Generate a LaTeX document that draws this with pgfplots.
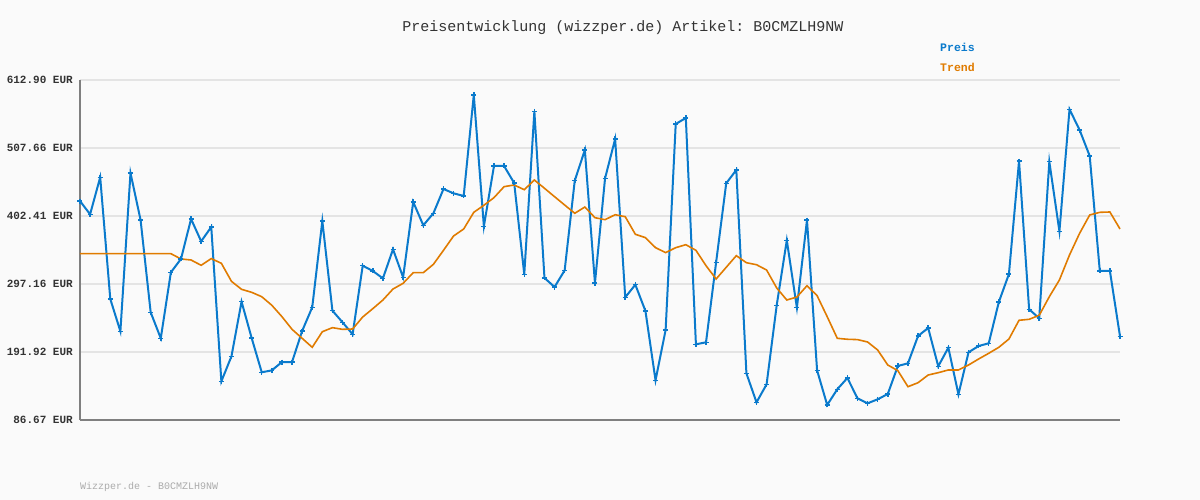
\documentclass[border=0pt]{standalone}
\usepackage{fontspec}
\setmonofont{Liberation Mono}
\usepackage{pgfplots}
\usepackage{pgfplotstable}
\pgfplotsset{compat=1.18}
\definecolor{bgc}{HTML}{FAFAFA}
\definecolor{preis}{HTML}{0A7ACC}
\definecolor{trend}{HTML}{E07B00}
\definecolor{gridc}{HTML}{E4E4E4}
\definecolor{axc}{HTML}{7F7F7F}
\definecolor{txt}{HTML}{333333}
\definecolor{foot}{HTML}{ABABAB}
\pgfplotstableread{
i price trend
0 425.6 344.1
1 405.0 344.1
2 462.3 344.1
3 273.9 344.1
4 223.9 344.1
5 469.0 344.1
6 396.2 344.1
7 253.3 344.1
8 213.1 344.1
9 315.2 344.1
10 335.9 335.9
11 397.8 334.3
12 363.2 326.1
13 385.4 336.5
14 146.5 329.2
15 185.2 301.3
16 269.8 288.9
17 213.6 284.3
18 160.5 277.5
19 163.5 264.2
20 176.4 246.6
21 176.4 227.0
22 224.4 213.1
23 261.1 199.2
24 394.7 223.3
25 255.9 229.6
26 237.9 227.0
27 219.3 227.5
28 325.5 246.1
29 317.3 259.0
30 305.9 272.4
31 350.9 289.4
32 307.5 298.2
33 424.1 314.7
34 388.0 314.7
35 406.6 327.6
36 444.2 349.3
37 437.5 371.5
38 433.4 382.3
39 589.7 408.1
40 386.5 419.0
41 479.8 430.8
42 479.8 447.8
43 453.5 450.4
44 312.2 443.1
45 564.4 458.1
46 306.5 445.3
47 292.5 432.3
48 318.3 419.4
49 457.1 406.6
50 504.6 416.3
51 298.7 399.8
52 460.7 396.7
53 521.6 404.4
54 276.5 401.3
55 296.1 374.1
56 255.4 368.9
57 148.1 353.4
58 226.0 345.7
59 544.8 353.4
60 554.1 358.0
61 203.8 349.3
62 206.9 325.5
63 330.7 304.9
64 453.0 323.0
65 473.6 341.0
66 158.9 330.1
67 114.0 327.0
68 141.9 318.8
69 264.2 291.0
70 364.8 272.4
71 260.5 277.0
72 396.2 294.5
73 163.5 279.1
74 109.9 246.6
75 134.2 213.1
76 151.7 211.6
77 120.3 211.1
78 112.5 207.4
79 118.7 195.0
80 126.9 171.8
81 170.3 163.0
82 174.4 138.2
83 216.7 144.4
84 229.1 156.3
85 169.8 159.9
86 198.6 164.1
87 126.4 164.1
88 191.5 171.8
89 201.2 181.1
90 205.4 189.9
91 269.3 199.2
92 312.6 212.0
93 487.5 241.0
94 258.0 242.5
95 244.1 248.7
96 486.5 277.5
97 378.7 303.4
98 567.5 342.1
99 535.5 375.6
100 495.3 404.0
101 317.3 408.1
102 317.3 408.6
103 216.2 382.3
}\datatable
\begin{document}
\begin{tikzpicture}[x=1pt,y=1pt]
\fill[bgc] (0,0) rectangle (1200,500);
\begin{axis}[
  at={(80pt,80pt)}, anchor=south west,
  width=1040pt, height=340pt, scale only axis,
  xmin=0, xmax=103, ymin=86.67, ymax=612.90,
  axis x line=bottom, axis y line=left,
  axis line style={axc, line width=2pt, -},
  xtick=\empty,
  ytick={86.67,191.92,297.16,402.41,507.66,612.90},
  yticklabels={86.67 EUR,191.92 EUR,297.16 EUR,402.41 EUR,507.66 EUR,612.90 EUR},
  ymajorgrids, grid style={gridc, line width=2pt},
  major tick length=0pt,
  yticklabel style={font=\ttfamily\bfseries\fontsize{11}{11}\selectfont, text=txt, inner sep=0pt, xshift=-7pt},
  clip=false,
]
\addplot[preis, line width=2pt, mark=+, mark size=2.5pt, mark options={line width=1.5pt}] table[x=i, y=price] {\datatable};
\addplot[trend, line width=1.6pt, no marks] table[x=i, y=trend] {\datatable};
\end{axis}
\node[text=txt, font=\ttfamily\fontsize{15}{15}\selectfont] at (623,472) {Preisentwicklung (wizzper.de) Artikel: B0CMZLH9NW};
\node[anchor=west, inner sep=0pt, text=preis, font=\ttfamily\bfseries\fontsize{11.5}{11.5}\selectfont] at (940,453) {Preis};
\node[anchor=west, inner sep=0pt, text=trend, font=\ttfamily\bfseries\fontsize{11.5}{11.5}\selectfont] at (940,433) {Trend};
\node[anchor=west, inner sep=0pt, text=foot, font=\ttfamily\fontsize{10}{10}\selectfont] at (80,13) {Wizzper.de - B0CMZLH9NW};
\end{tikzpicture}
\end{document}
